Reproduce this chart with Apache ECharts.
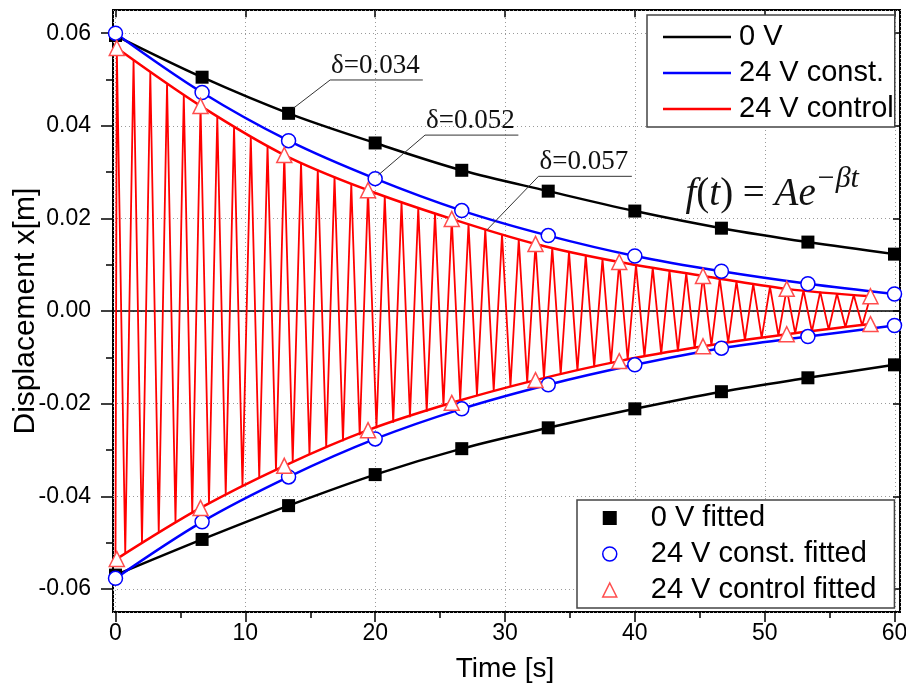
<!DOCTYPE html>
<html><head><meta charset="utf-8">
<script src="https://cdn.jsdelivr.net/npm/echarts@6/dist/echarts.min.js"></script>
<style>html,body{margin:0;padding:0;background:#fff}#c{width:906px;height:691px}</style>
</head><body><div id="c"></div>
<script>
// ---------- data ----------
const fitT = [0, 6.67, 13.33, 20, 26.67, 33.33, 40, 46.67, 53.33, 60];
const v0Up   = [0.0595, 0.0505, 0.0427, 0.0363, 0.0304, 0.0259, 0.0216, 0.0179, 0.0149, 0.0123];
const v0Low  = [-0.0570, -0.0493, -0.0420, -0.0353, -0.0297, -0.0252, -0.0211, -0.0174, -0.0144, -0.0116];
const vConstUp  = [0.0600, 0.0472, 0.0368, 0.0286, 0.0217, 0.0163, 0.0119, 0.0086, 0.0059, 0.0037];
const vConstLow = [-0.0577, -0.0455, -0.0358, -0.0276, -0.0211, -0.0159, -0.0116, -0.0080, -0.0055, -0.0031];
const ctrlT = [0.1, 6.55, 13.0, 19.45, 25.9, 32.35, 38.8, 45.25, 51.7, 58.15];
const vCtrlUp  = [0.0568, 0.0443, 0.0337, 0.0261, 0.0199, 0.0145, 0.0106, 0.0076, 0.0048, 0.0032];
const vCtrlLow = [-0.0535, -0.0425, -0.0334, -0.0257, -0.0198, -0.0149, -0.0108, -0.0076, -0.0050, -0.0028];
// oscillation of the 24 V control signal: start point, upper peaks, lower peaks
const oscStart = [0, -0.0535];
const peakT = [0.10, 1.39, 2.68, 3.97, 5.26, 6.55, 7.84, 9.13, 10.42, 11.71, 13.00, 14.29, 15.58, 16.87, 18.16,
  19.45, 20.74, 22.03, 23.32, 24.61, 25.90, 27.19, 28.48, 29.77, 31.06, 32.35, 33.64, 34.93, 36.22, 37.51,
  38.80, 40.09, 41.38, 42.67, 43.96, 45.25, 46.54, 47.83, 49.12, 50.41, 51.70, 52.99, 54.28, 55.57, 56.86, 58.15];
const peakV = [0.0568, 0.0541, 0.0515, 0.0490, 0.0466, 0.0443, 0.0420, 0.0398, 0.0377, 0.0357, 0.0337, 0.0321,
  0.0305, 0.0290, 0.0275, 0.0261, 0.0248, 0.0235, 0.0223, 0.0211, 0.0199, 0.0188, 0.0177, 0.0166, 0.0155, 0.0145,
  0.0137, 0.0129, 0.0121, 0.0113, 0.0106, 0.0100, 0.0094, 0.0088, 0.0082, 0.0076, 0.0070, 0.0064, 0.0059, 0.0053,
  0.0048, 0.0045, 0.0042, 0.0038, 0.0035, 0.0032];
const troughT = [0.75, 2.04, 3.33, 4.62, 5.91, 7.20, 8.49, 9.78, 11.07, 12.36, 13.65, 14.94, 16.23, 17.52, 18.81,
  20.10, 21.39, 22.68, 23.97, 25.26, 26.55, 27.84, 29.13, 30.42, 31.71, 33.00, 34.29, 35.58, 36.87, 38.16,
  39.45, 40.74, 42.03, 43.32, 44.61, 45.90, 47.19, 48.48, 49.77, 51.06, 52.35, 53.64, 54.93, 56.22, 57.51];
const troughV = [-0.0523, -0.0500, -0.0477, -0.0455, -0.0436, -0.0415, -0.0396, -0.0378, -0.0360, -0.0343, -0.0325,
  -0.0310, -0.0295, -0.0281, -0.0268, -0.0253, -0.0241, -0.0229, -0.0217, -0.0205, -0.0193, -0.0182, -0.0172,
  -0.0163, -0.0154, -0.0145, -0.0137, -0.0129, -0.0121, -0.0113, -0.0105, -0.0099, -0.0093, -0.0087, -0.0081,
  -0.0074, -0.0068, -0.0063, -0.0058, -0.0053, -0.0048, -0.0044, -0.0040, -0.0035, -0.0031];
// annotations (data coordinates): leader start, knee, underline end
const annotations = [
  { text: 'δ=0.034', from: [13.7, 0.0438], knee: [16.53, 0.0499], end: [23.67, 0.0499] },
  { text: 'δ=0.052', from: [20.25, 0.0294], knee: [23.84, 0.0380], end: [31.03, 0.0380] },
  { text: 'δ=0.057', from: [28.6, 0.0175], knee: [32.58, 0.0291], end: [39.77, 0.0291] }
];
const formulaAnchor = [43.9, 0.0210];

// ---------- chart ----------
const FONT = '"Liberation Sans", Arial, sans-serif';
const SERIF = '"Liberation Serif", "Times New Roman", serif';
const zip = (a, b) => a.map((v, i) => [v, b[i]]);
const osc = [oscStart];
for (let i = 0; i < peakT.length; i++) {
  osc.push([peakT[i], peakV[i]]);
  if (i < troughT.length) osc.push([troughT[i], troughV[i]]);
}
const BLUE = '#0000ff', RED = '#ff0000', TRI = '#ff4d4d';
const dotted = { type: [1, 3], color: '#9a9a9a', width: 1 };
const tickStyle = { color: '#000', width: 1.5 };
const lineS = (name, data, color, w) => ({
  name, type: 'line', data, xAxisIndex: 0, yAxisIndex: 0, symbol: 'none', smooth: 0.35,
  lineStyle: { color, width: w }, itemStyle: { color }, z: 3
});

const chart = echarts.init(document.getElementById('c'));
const option = {
  animation: false,
  backgroundColor: '#fff',
  grid: [
    { left: 115.5, right: 11.5, top: 33.2, bottom: 102, containLabel: false, outerBoundsMode: 'none' },
    { left: 113, right: 6, top: 10, bottom: 79, containLabel: false, outerBoundsMode: 'none',
      show: true, borderColor: '#000', borderWidth: 2, backgroundColor: 'transparent' }
  ],
  xAxis: [
    { type: 'value', gridIndex: 0, position: 'bottom', offset: 23, min: 0, max: 60, interval: 10,
      axisLine: { show: false, onZero: false }, splitLine: { show: false },
      axisTick: { show: true, length: 10, lineStyle: tickStyle },
      minorTick: { show: true, splitNumber: 2, length: 6, lineStyle: tickStyle },
      axisLabel: { fontFamily: FONT, fontSize: 23, color: '#000', margin: 10 },
      name: 'Time [s]', nameLocation: 'middle', nameGap: 43, nameMoveOverlap: false,
      nameTextStyle: { fontFamily: FONT, fontSize: 28, color: '#000' } },
    { type: 'value', gridIndex: 0, position: 'top', offset: 23, min: 0, max: 60, interval: 10,
      axisLine: { show: false, onZero: false }, splitLine: { show: false }, axisLabel: { show: false },
      axisTick: { show: true, inside: true, length: 7, lineStyle: tickStyle } },
    { type: 'value', gridIndex: 1, min: -0.2, max: 60.4, splitNumber: 6,
      axisLine: { show: true, onZero: true, lineStyle: { color: '#000', width: 1.5 } },
      axisTick: { show: false }, axisLabel: { show: false },
      splitLine: { show: true, lineStyle: dotted } }
  ],
  yAxis: [
    { type: 'value', gridIndex: 0, position: 'left', offset: 2.5, min: -0.06, max: 0.06, interval: 0.02,
      axisLine: { show: false, onZero: false }, splitLine: { show: false },
      axisTick: { show: true, length: 12, lineStyle: tickStyle },
      minorTick: { show: true, splitNumber: 2, length: 7, lineStyle: tickStyle },
      axisLabel: { fontFamily: FONT, fontSize: 23, color: '#000', margin: 22,
        formatter: v => (Math.abs(v) < 1e-9 ? '0.00' : v.toFixed(2)) },
      name: 'Displacement x[m]', nameLocation: 'middle', nameGap: 72, nameMoveOverlap: false,
      nameTextStyle: { fontFamily: FONT, fontSize: 30, color: '#000' } },
    { type: 'value', gridIndex: 0, position: 'right', offset: 5.5, min: -0.06, max: 0.06, interval: 0.02,
      axisLine: { show: false, onZero: false }, splitLine: { show: false }, axisLabel: { show: false },
      axisTick: { show: true, inside: true, length: 7, lineStyle: tickStyle } },
    { type: 'value', gridIndex: 1, min: -0.065, max: 0.065, splitNumber: 6,
      axisLine: { show: false, onZero: false }, axisTick: { show: false }, axisLabel: { show: false },
      splitLine: { show: true, lineStyle: dotted } }
  ],
  legend: [
    { orient: 'vertical', left: 647, top: 15, padding: [4, 1, 0, 16], itemGap: 0,
      itemWidth: 68, itemHeight: 2.5, backgroundColor: '#fff', borderColor: '#444', borderWidth: 1.5,
      selectedMode: false,
      textStyle: { fontFamily: FONT, fontSize: 29, lineHeight: 36, color: '#000', padding: [0, 0, 0, 3] },
      data: [
        { name: '0 V', icon: 'rect', itemStyle: { color: '#000' } },
        { name: '24 V const.', icon: 'rect', itemStyle: { color: BLUE } },
        { name: '24 V control', icon: 'rect', itemStyle: { color: RED } }
      ] },
    { orient: 'vertical', left: 577, top: 500, padding: [0, 18, 0, 25], itemGap: 0,
      itemWidth: 14, itemHeight: 14, backgroundColor: '#fff', borderColor: '#444', borderWidth: 1.5,
      selectedMode: false,
      textStyle: { fontFamily: FONT, fontSize: 29, lineHeight: 36, color: '#000', padding: [0, 0, 0, 29] },
      data: [
        { name: '0 V fitted', icon: 'rect', itemStyle: { color: '#000', borderWidth: 0, opacity: 1 } },
        { name: '24 V const. fitted', icon: 'circle', itemStyle: { color: '#fff', borderColor: BLUE, borderWidth: 1.5, opacity: 1 } },
        { name: '24 V control fitted', icon: 'triangle', itemStyle: { color: '#fff', borderColor: TRI, borderWidth: 1.5, opacity: 1 } }
      ] }
  ],
  series: [
    Object.assign(lineS('24 V control', osc, RED, 1.8), { smooth: false, z: 2 }),
    lineS('0 V', zip(fitT, v0Up), '#000', 2.5),
    lineS('0 V', zip(fitT, v0Low), '#000', 2.5),
    lineS('24 V const.', zip(fitT, vConstUp), BLUE, 2.5),
    lineS('24 V const.', zip(fitT, vConstLow), BLUE, 2.5),
    lineS('24 V control', zip(ctrlT, vCtrlUp), RED, 2.5),
    lineS('24 V control', zip(ctrlT, vCtrlLow), RED, 2.5),
    { name: '0 V fitted', type: 'scatter', xAxisIndex: 0, yAxisIndex: 0, symbol: 'rect', symbolSize: 13,
      data: zip(fitT, v0Up).concat(zip(fitT, v0Low)), itemStyle: { color: '#000', opacity: 1 }, z: 5, clip: false },
    { name: '24 V const. fitted', type: 'scatter', xAxisIndex: 0, yAxisIndex: 0, symbol: 'circle', symbolSize: 14,
      data: zip(fitT, vConstUp).concat(zip(fitT, vConstLow)),
      itemStyle: { color: '#fff', borderColor: BLUE, borderWidth: 1.5, opacity: 1 }, z: 5, clip: false },
    { name: '24 V control fitted', type: 'scatter', xAxisIndex: 0, yAxisIndex: 0, symbol: 'triangle', symbolSize: 15,
      data: zip(ctrlT, vCtrlUp).concat(zip(ctrlT, vCtrlLow)),
      itemStyle: { color: '#fff', borderColor: TRI, borderWidth: 1.5, opacity: 1 }, z: 5, clip: false }
  ]
};
chart.setOption(option);

// annotations placed through the axes
const px = p => chart.convertToPixel({ xAxisIndex: 0, yAxisIndex: 0 }, p);
const graphics = [];
annotations.forEach(a => {
  const f = px(a.from), k = px(a.knee), e = px(a.end);
  graphics.push({ type: 'polyline', z: 10, shape: { points: [f, k, e] },
    style: { stroke: '#333', lineWidth: 1, fill: null } });
  graphics.push({ type: 'text', z: 10, x: k[0] + 1, y: k[1] - 1,
    style: { text: a.text, fontFamily: SERIF, fontSize: 27, fill: '#111',
      align: 'left', verticalAlign: 'bottom', textAlign: 'left', textVerticalAlign: 'bottom' } });
});
const fa = px(formulaAnchor);
graphics.push({ type: 'text', z: 10, x: fa[0], y: fa[1],
  style: {
    text: '{i|f}{r|(}{i|t}{r|) = }{i|Ae}{s|−}{si|βt}',
    align: 'left', verticalAlign: 'bottom', textAlign: 'left', textVerticalAlign: 'bottom',
    fill: '#111',
    rich: {
      i: { fontFamily: SERIF, fontStyle: 'italic', fontSize: 39, lineHeight: 50, verticalAlign: 'bottom' },
      r: { fontFamily: SERIF, fontSize: 39, lineHeight: 50, verticalAlign: 'bottom' },
      s: { fontFamily: SERIF, fontSize: 30, lineHeight: 30, verticalAlign: 'top', padding: [0, 1, 0, 2] },
      si: { fontFamily: SERIF, fontStyle: 'italic', fontSize: 30, lineHeight: 30, verticalAlign: 'top' }
    }
  } });
chart.setOption({ graphic: graphics });
</script>
</body></html>
